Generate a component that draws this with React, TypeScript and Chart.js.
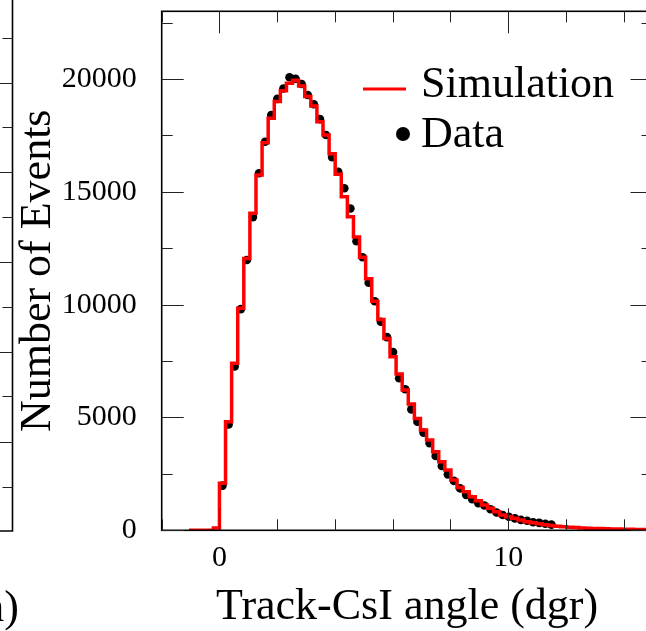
import React, { useEffect, useRef } from 'react';
import { Chart, registerables } from 'chart.js';

Chart.register(...registerables);

// ---- data -------------------------------------------------------------
const BIN_WIDTH = 0.211; // degrees per histogram bin
const SIM_FIRST_BIN = -5; // index of the first simulation bin
const DATA_FIRST_BIN = 0; // index of the first data bin

// Simulation histogram contents, bins -5 .. 70
const SIM_COUNTS = [
  0, 0, 0, 0, 100,
  2080, 4810, 7400, 9840, 12050, 14050, 15750, 17180, 18260, 19000,
  19480, 19810, 19940, 19690, 19220, 18800, 18110, 17520, 16690, 15780,
  14780, 13900, 13000, 12100, 11150, 10150, 9340, 8500, 7690, 6930,
  6220, 5600, 4960, 4450, 4000, 3480, 3040, 2670, 2230, 1900,
  1710, 1490, 1310, 1120, 975, 825, 680, 600, 530, 455,
  380, 340, 290, 250, 215, 185, 160, 140, 120, 105,
  95, 85, 75, 65, 60, 55, 50, 45, 40, 35, 30,
];

// Measured data, bins 0 .. 54
const DATA_COUNTS = [
  1980, 4690, 7260, 9800, 11980, 13880, 15820, 17220, 18400, 19120,
  19580, 20080, 20010, 19780, 19290, 18880, 18220, 17520, 16530, 15890,
  15160, 14260, 12810, 12100, 10970, 10150, 9240, 8560, 7900, 6740,
  6250, 5360, 4810, 4330, 3860, 3290, 2850, 2480, 2190, 1860,
  1570, 1380, 1200, 1100, 930, 790, 680, 600, 530, 460,
  420, 360, 330, 290, 250,
];

const X_MIN = -2;
const X_MAX = 15;
const Y_MIN = 0;
const Y_MAX = 23000;
const X_MAJOR = [0, 10];
const X_MINOR = [-2, 2, 4, 6, 8, 12, 14];
const Y_MAJOR = [0, 5000, 10000, 15000, 20000];
const Y_MINOR = [2500, 7500, 12500, 17500, 22500];

const X_TITLE = 'Track-CsI angle (dgr)';
const Y_TITLE = 'Number of Events';
const SIM_LABEL = 'Simulation';
const DATA_LABEL = 'Data';
const NEIGHBOUR_TITLE_TAIL = 'n)';

const FONT = '"Liberation Serif", "Times New Roman", serif';

// ---- plugins ----------------------------------------------------------
const framePlugin = {
  id: 'frameTicks',
  afterDatasetsDraw(chart: any) {
    const { ctx, chartArea } = chart;
    const { left, right, top, bottom } = chartArea;
    const xs = chart.scales.x;
    const ys = chart.scales.y;
    ctx.save();
    ctx.strokeStyle = '#000';
    ctx.lineWidth = 1.6;
    ctx.strokeRect(left, top, right - left, bottom - top);
    ctx.lineWidth = 1;
    ctx.strokeStyle = '#222';
    const drawX = (vals: number[], len: number) => {
      vals.forEach((v) => {
        const px = Math.round(xs.getPixelForValue(v)) + 0.5;
        ctx.beginPath();
        ctx.moveTo(px, bottom);
        ctx.lineTo(px, bottom - len);
        ctx.moveTo(px, top);
        ctx.lineTo(px, top + len);
        ctx.stroke();
      });
    };
    const drawY = (vals: number[], len: number) => {
      vals.forEach((v) => {
        const py = Math.round(ys.getPixelForValue(v)) + 0.5;
        ctx.beginPath();
        ctx.moveTo(left, py);
        ctx.lineTo(left + len, py);
        ctx.moveTo(right, py);
        ctx.lineTo(right - len, py);
        ctx.stroke();
      });
    };
    drawX(X_MAJOR, 22);
    drawX(X_MINOR, 11);
    drawY(Y_MAJOR, 22);
    drawY(Y_MINOR, 11);
    ctx.restore();
  },
};

const legendPlugin = {
  id: 'customLegend',
  afterDraw(chart: any) {
    const { ctx } = chart;
    const sim = chart.data.datasets[0];
    const dat = chart.data.datasets[1];
    ctx.save();
    ctx.strokeStyle = sim.borderColor;
    ctx.lineWidth = 3;
    ctx.beginPath();
    ctx.moveTo(363, 89);
    ctx.lineTo(406, 89);
    ctx.stroke();
    ctx.fillStyle = dat.backgroundColor;
    ctx.beginPath();
    ctx.arc(403, 134, 7, 0, Math.PI * 2);
    ctx.fill();
    ctx.fillStyle = '#000';
    ctx.font = `44px ${FONT}`;
    ctx.textAlign = 'left';
    ctx.textBaseline = 'alphabetic';
    ctx.fillText(sim.label, 421, 97);
    ctx.fillText(dat.label, 421, 147);
    ctx.restore();
  },
};

// edge of the neighbouring panel that is cut by the crop
const neighbourPlugin = {
  id: 'neighbourPanel',
  afterDraw(chart: any) {
    const { ctx } = chart;
    ctx.save();
    ctx.strokeStyle = '#000';
    ctx.lineWidth = 1.6;
    ctx.beginPath();
    ctx.moveTo(12.5, 0);
    ctx.lineTo(12.5, 531);
    ctx.lineTo(0, 531);
    ctx.stroke();
    ctx.lineWidth = 1;
    ctx.strokeStyle = '#222';
    const yTicks = [37.7, 82.7, 127.3, 172.3, 217.3, 261.7, 306.7, 351.7, 396, 441.7, 486.6];
    yTicks.forEach((y, i) => {
      const len = i % 2 === 1 ? 22 : 10;
      const py = Math.round(y) + 0.5;
      ctx.beginPath();
      ctx.moveTo(12.5, py);
      ctx.lineTo(12.5 - len, py);
      ctx.stroke();
    });
    ctx.fillStyle = '#000';
    ctx.font = `44px ${FONT}`;
    ctx.textAlign = 'right';
    ctx.textBaseline = 'alphabetic';
    ctx.fillText(NEIGHBOUR_TITLE_TAIL, 19, 621);
    ctx.restore();
  },
};

// ---- component --------------------------------------------------------
export default function App() {
  const ref = useRef<HTMLCanvasElement | null>(null);

  useEffect(() => {
    if (!ref.current) return;
    // histogram outline: each bin's value held from its left edge to its right edge
    const simPoints = SIM_COUNTS.map((c, i) => ({
      x: (SIM_FIRST_BIN + i) * BIN_WIDTH,
      y: c,
    }));
    simPoints.push({
      x: (SIM_FIRST_BIN + SIM_COUNTS.length) * BIN_WIDTH,
      y: SIM_COUNTS[SIM_COUNTS.length - 1],
    });
    const dataPoints = DATA_COUNTS.map((c, i) => ({
      x: (DATA_FIRST_BIN + i + 0.5) * BIN_WIDTH,
      y: c,
    }));

    const chart = new Chart(ref.current, {
      type: 'scatter',
      data: {
        datasets: [
          {
            type: 'line',
            label: SIM_LABEL,
            data: simPoints,
            borderColor: '#ff0000',
            backgroundColor: '#ff0000',
            borderWidth: 3.5,
            stepped: 'before',
            pointRadius: 0,
            showLine: true,
            fill: false,
            order: 0,
          } as any,
          {
            type: 'scatter',
            label: DATA_LABEL,
            data: dataPoints,
            backgroundColor: '#000000',
            borderColor: '#000000',
            borderWidth: 0,
            pointRadius: 4.3,
            order: 1,
          } as any,
        ],
      },
      options: {
        responsive: false,
        animation: false,
        devicePixelRatio: 1,
        layout: { padding: { left: 0, top: 11.3, right: 7.5, bottom: 0 } },
        plugins: {
          legend: { display: false },
          tooltip: { enabled: false },
        },
        scales: {
          x: {
            type: 'linear',
            min: X_MIN,
            max: X_MAX,
            grid: { display: false, drawTicks: false },
            border: { display: false },
            afterBuildTicks: (s: any) => {
              s.ticks = X_MAJOR.map((v) => ({ value: v }));
            },
            afterFit: (s: any) => {
              s.height = 100.7;
              s.paddingLeft = 0;
              s.paddingRight = 0;
            },
            ticks: {
              color: '#000',
              padding: 12.5,
              maxRotation: 0,
              font: { family: FONT, size: 30, lineHeight: 1 },
              callback: (v: any) => String(v),
            },
            title: {
              display: true,
              text: X_TITLE,
              color: '#000',
              font: { family: FONT, size: 44, lineHeight: 1 },
              padding: { top: 0, bottom: 1.5 },
            },
          },
          y: {
            type: 'linear',
            min: Y_MIN,
            max: Y_MAX,
            grid: { display: false, drawTicks: false },
            border: { display: false },
            afterBuildTicks: (s: any) => {
              s.ticks = Y_MAJOR.map((v) => ({ value: v }));
            },
            afterFit: (s: any) => {
              s.width = 161.7;
              s.paddingTop = 0;
              s.paddingBottom = 0;
            },
            ticks: {
              color: '#000',
              padding: 25,
              font: { family: FONT, size: 30, lineHeight: 1 },
              callback: (v: any) => String(v),
            },
            title: {
              display: true,
              text: Y_TITLE,
              color: '#000',
              font: { family: FONT, size: 44, lineHeight: 1 },
              padding: { top: 16.6, bottom: 0 },
            },
          },
        },
      },
      plugins: [framePlugin, legendPlugin, neighbourPlugin],
    });
    return () => chart.destroy();
  }, []);

  return (
    <div
      style={{
        position: 'fixed',
        left: 0,
        top: 0,
        width: 646,
        height: 631,
        overflow: 'hidden',
        background: '#fff',
      }}
    >
      <canvas
        ref={ref}
        width={660}
        height={631}
        style={{ position: 'absolute', left: 0, top: 0, width: 660, height: 631 }}
      />
    </div>
  );
}
